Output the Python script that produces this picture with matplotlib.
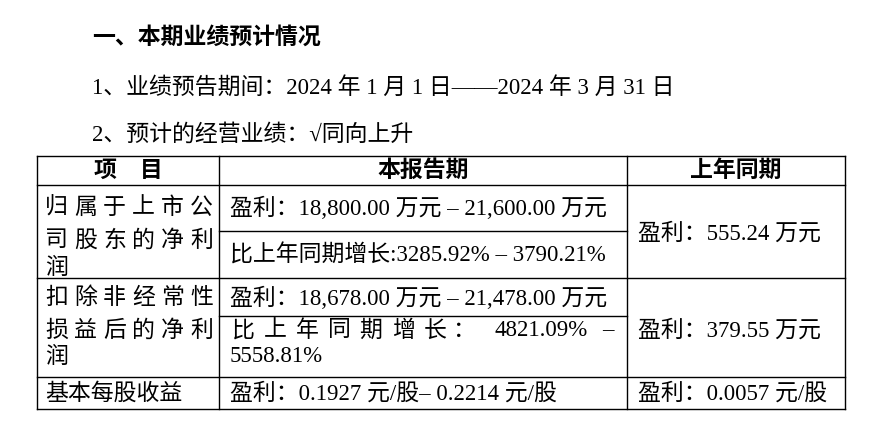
import matplotlib.pyplot as plt

FAM = ['Liberation Serif', 'Noto Sans CJK SC']
FS = 16.5

heading = "一、本期业绩预计情况"
period_line = "1、业绩预告期间：2024 年 1 月 1 日——2024 年 3 月 31 日"
trend_line = "2、预计的经营业绩：√同向上升"
headers = ["项    目", "本报告期", "上年同期"]

net_label = ["归属于上市公", "司股东的净利", "润"]
net_cur = ["盈利：18,800.00 万元 – 21,600.00 万元", "比上年同期增长:3285.92% – 3790.21%"]
net_prev = "盈利：555.24 万元"
ded_label = ["扣除非经常性", "损益后的净利", "润"]
ded_cur = ["盈利：18,678.00 万元 – 21,478.00 万元", "比上年同期增长：4821.09% –", "5558.81%"]
ded_prev = "盈利：379.55 万元"
eps_label = "基本每股收益"
eps_cur = "盈利：0.1927 元/股– 0.2214 元/股"
eps_prev = "盈利：0.0057 元/股"

fig = plt.figure(figsize=(8.81, 4.29), dpi=100)
ax = fig.add_axes([0, 0, 1, 1])
ax.set_xlim(0, 881)
ax.set_ylim(429, 0)
ax.axis('off')


def txt(x, y, s, ha='left', bold=False, size=FS):
    ax.text(x, y, s, ha=ha, va='center', fontsize=size, family=FAM,
            fontweight='bold' if bold else 'normal')


def spread(x0, x1, y, chars):
    # justified text: first glyph starts at x0, last ends at x1
    n = len(chars)
    w = 23
    step = (x1 - x0 - w) / (n - 1)
    for i, c in enumerate(chars):
        ax.text(x0 + w / 2 + step * i, y, c, ha='center', va='center',
                fontsize=FS, family=FAM)


txt(92, 38, heading, bold=True, size=16.5)
txt(92, 88, period_line)
txt(92, 135, trend_line)

# grid
L, C1, C2, R = 37, 219, 627, 845
lw = 1.0
for y in [156, 185, 278, 377, 409]:
    ax.plot([L, R], [y, y], color='black', lw=lw)
for y in [231, 316]:
    ax.plot([C1, C2], [y, y], color='black', lw=lw)
for x in [L, C1, C2, R]:
    ax.plot([x, x], [156, 409], color='black', lw=lw)

txt((L + C1) / 2, 171, headers[0], ha='center', bold=True)
txt((C1 + C2) / 2, 171, headers[1], ha='center', bold=True)
txt((C2 + R) / 2, 171, headers[2], ha='center', bold=True)

spread(45, 213, 208, net_label[0])
spread(45, 213, 241, net_label[1])
txt(45, 268, net_label[2])
txt(230, 208, net_cur[0])
txt(230, 256, net_cur[1])
txt(638, 234, net_prev)

spread(45, 213, 298, ded_label[0])
spread(45, 213, 331, ded_label[1])
txt(45, 357, ded_label[2])
txt(230, 298, ded_cur[0])
parts = ["比", "上", "年", "同", "期", "增", "长", "：", "4821.09%", "–"]
xs = [243, 275, 307, 339, 371, 403, 435, 464, 541, 608]
for x, p in zip(xs, parts):
    ax.text(x, 331, p, ha='center', va='center', fontsize=FS, family=FAM)
txt(230, 357, ded_cur[2])
txt(638, 331, ded_prev)

txt(45, 394, eps_label)
txt(230, 394, eps_cur)
txt(638, 394, eps_prev)

fig.savefig('out.png', dpi=100)
